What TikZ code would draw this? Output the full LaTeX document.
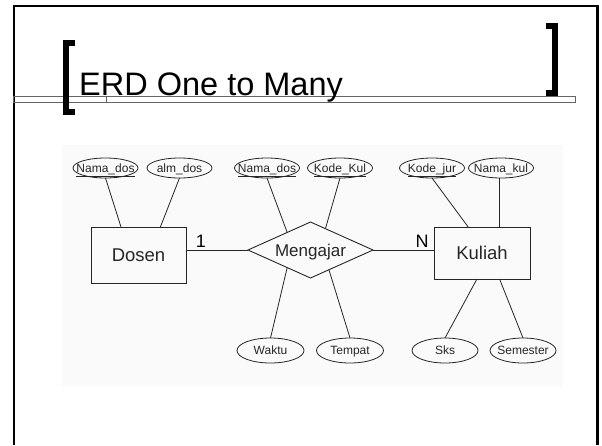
\documentclass[tikz,border=0pt]{standalone}
\usepackage{fontspec}
\setmainfont{Liberation Sans}
\usetikzlibrary{shapes.geometric,calc}
\newcommand\zb[1]{\makebox[0pt]{#1}}
\begin{document}
\begin{tikzpicture}[x=1pt,y=-1pt,
  frame/.style={line width=2.4pt},
  brk/.style={line width=6pt, miter limit=10},
  ent/.style={draw=black!85, line width=0.9pt, rectangle, inner sep=0pt, outer sep=0pt, font=\fontsize{18.5}{20}\selectfont, text=black!85, text height=13.2pt, text depth=0pt},
  rel/.style={draw=black!85, line width=0.9pt, diamond, aspect=2.2, inner sep=0pt, outer sep=0pt, minimum width=125pt, minimum height=56pt, font=\fontsize{17}{20}\selectfont, text=black!85, text height=12.2pt, text depth=0pt},
  att/.style={draw=black!85, line width=0.8pt, ellipse, inner sep=0pt, outer sep=0pt, minimum width=65pt, minimum height=20pt, font=\fontsize{12}{14}\selectfont, text=black!85, text height=8.6pt, text depth=0pt},
  attb/.style={att, minimum height=25pt, minimum width=67pt},
  link/.style={draw=black!85, line width=0.8pt},
  card/.style={font=\fontsize{18}{20}\selectfont, inner sep=0pt}]
\useasboundingbox (0,0) rectangle (602,445);
% light picture background
\fill[black!2] (62,145) rectangle (563,386);
% slide frame
\draw[frame] (14,445) -- (14,6.2) -- (597.5,6.2) -- (597.5,445);
% title rule
\draw[black!60, line width=0.7pt] (13,96.8) rectangle (575,102.2);
\draw[black!60, line width=0.7pt] (106,96.8) -- (106,102.2);
% brackets
\draw[brk] (75,43) -- (66,43) -- (66,112) -- (75,112);
\draw[brk] (546,25.7) -- (555,25.7) -- (555,93.3) -- (546,93.3);
% title
\node[anchor=base west, inner sep=0pt, font=\fontsize{32.5}{36}\selectfont] (title) at (79,95) {ERD One to Many};

% entities and relationship
\node[ent, minimum width=95pt, minimum height=56pt] (dosen) at (138.5,255) {Dosen};
\node[ent, minimum width=96pt, minimum height=52pt] (kuliah) at (482,253) {Kuliah};
\node[rel] (mengajar) at (310.5,250) {Mengajar};

% attributes
\node[att] (nd1) at (105.5,168) {\zb{\underline{Nama\_dos}}};
\node[att] (ad) at (179.5,168) {\zb{alm\_dos}};
\node[att] (nd2) at (267,168) {\zb{\underline{Nama\_dos}}};
\node[att] (kk) at (340,168) {\zb{\underline{Kode\_Kul}}};
\node[att] (kj) at (432,168) {\zb{\underline{Kode\_jur}}};
\node[att] (nk) at (501,168) {\zb{Nama\_kul}};
\node[attb] (waktu) at (270.5,350.5) {\zb{Waktu}};
\node[attb] (tempat) at (350,350.5) {\zb{Tempat}};
\node[attb, minimum width=66pt] (sks) at (445,350.5) {\zb{Sks}};
\node[attb, minimum width=66pt] (sem) at (523,350.5) {\zb{Semester}};

% cardinalities
\node[card] (one) at (201,241) {1};
\node[card] (many) at (422,241.5) {N};

% connectors
\draw[link] (mengajar.west) -- (dosen.east |- mengajar.west);
\draw[link] (mengajar.east) -- (kuliah.west |- mengajar.east);
\draw[link] (nd1.south) -- (dosen.122);
\draw[link] (ad.south) -- (dosen.52.5);
\draw[link] (nd2.south) -- (mengajar.143.2);
\draw[link] (kk.south) -- (mengajar.55.8);
\draw[link] (waktu.north) -- (mengajar.217.5);
\draw[link] (tempat.north) -- (mengajar.313.8);
\draw[link] (kj.south) -- (kuliah.118.3);
\draw[link] ([xshift=-2pt]nk.south) -- ([xshift=-2pt]nk.south |- kuliah.north);
\draw[link] (sks.north) -- (kuliah.259);
\draw[link] (sem.north) -- (kuliah.304.7);
\end{tikzpicture}
\end{document}
